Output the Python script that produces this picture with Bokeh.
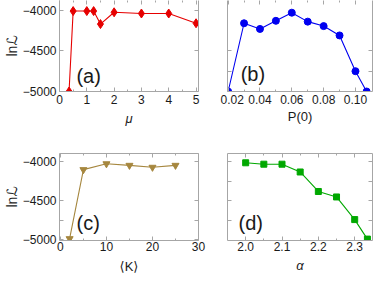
from bokeh.plotting import figure
from bokeh.layouts import gridplot
from bokeh.models import LinearAxis, FixedTicker, Range1d, Label, CustomLabelingPolicy
from bokeh.embed import file_html
from bokeh.resources import INLINE

# ---------------- data ----------------
mu = [0.35, 0.5, 1.0, 1.25, 1.5, 2, 3, 4, 5]
lnL_mu = [-5000, -4010, -4010, -4010, -4170, -4025, -4040, -4040, -4160]

p0 = [0.02, 0.03, 0.04, 0.05, 0.06, 0.07, 0.08, 0.09, 0.10, 0.107]
lnL_p0 = [-5000, -4160, -4230, -4130, -4030, -4140, -4195, -4310, -4750, -5000]

k_mean = [2, 5, 10, 15, 20, 25]
lnL_k = [-4985, -4100, -4025, -4045, -4070, -4045]

alpha = [2.0, 2.05, 2.1, 2.15, 2.2, 2.25, 2.3, 2.335]
lnL_alpha = [-4012, -4030, -4030, -4130, -4380, -4450, -4740, -4990]

# tick definitions
mu_ticks = [0, 1, 2, 3, 4, 5]
mu_minor = [0.5, 1.5, 2.5, 3.5, 4.5]
p0_ticks = [0.02, 0.04, 0.06, 0.08, 0.10]
p0_labels = ["0.02", "0.04", "0.06", "0.08", "0.10"]
p0_minor = [0.03, 0.05, 0.07, 0.09]
k_ticks = [0, 10, 20, 30]
k_minor = [5, 15, 25]
alpha_ticks = [2.0, 2.1, 2.2, 2.3]
alpha_labels = ["2.0", "2.1", "2.2", "2.3"]
alpha_minor = [2.05, 2.15, 2.25]
y_label_ticks = [-5000, -4500, -4000]
y_label_text = ["\u22125000", "\u22124500", "\u22124000"]

FRAME = "#a6a6a6"
TXT = "#1a1a1a"
FONT = "Liberation Sans, DejaVu Sans"


def style_axis(ax, ticks, minor, show_labels, line=True, standoff=3,
               overrides=None, minor_len=2):
    ax.ticker = FixedTicker(ticks=ticks, minor_ticks=minor)
    ax.axis_line_color = FRAME if line else None
    ax.axis_line_width = 1
    ax.major_tick_line_color = FRAME
    ax.minor_tick_line_color = FRAME
    ax.major_tick_in = 4
    ax.major_tick_out = 0
    ax.minor_tick_in = minor_len
    ax.minor_tick_out = 0
    if show_labels:
        ax.major_label_text_font = FONT
        ax.major_label_text_font_size = "12px"
        ax.major_label_text_color = TXT
        ax.major_label_standoff = standoff
        if overrides:
            ax.major_label_overrides = overrides
    else:
        # tick-only frame side: no labels drawn at all
        ax.major_label_policy = CustomLabelingPolicy(code="return []")
        ax.major_label_text_font_size = "0px"
        ax.major_label_standoff = 0


def panel(xs, ys, xr, yr, xt, xm, xlabels, yt, ym, ylab_left, width, height, mb,
          color, marker, msize, xtitle, xtitle_italic, xtitle_standoff,
          tick_standoff, top_line, letter, letter_pos):
    p = figure(width=width, height=height, x_range=Range1d(*xr), y_range=Range1d(*yr),
               output_backend="svg", toolbar_location=None,
               min_border_left=mb[0], min_border_right=mb[1],
               min_border_top=mb[2], min_border_bottom=mb[3])
    p.grid.visible = False
    p.outline_line_color = None
    p.background_fill_color = "white"
    p.border_fill_color = "white"

    xo = {t: l for t, l in zip(xt, xlabels)} if xlabels else None
    style_axis(p.xaxis[0], xt, xm, True, standoff=tick_standoff, overrides=xo)
    xa = p.xaxis[0]
    xa.axis_label = xtitle
    xa.axis_label_text_font = FONT
    xa.axis_label_text_font_size = "13px"
    xa.axis_label_text_color = TXT
    xa.axis_label_text_font_style = "italic" if xtitle_italic else "normal"
    xa.axis_label_standoff = xtitle_standoff

    ya = p.yaxis[0]
    if ylab_left:
        yo = {t: l for t, l in zip(y_label_ticks, y_label_text)}
        style_axis(ya, yt, ym, True, standoff=3, overrides=yo, minor_len=4)
        ya.axis_label = "ln\u2112"
        ya.axis_label_text_font = FONT
        ya.axis_label_text_font_size = "14px"
        ya.axis_label_text_color = TXT
        ya.axis_label_text_font_style = "normal"
        ya.axis_label_standoff = 0
    else:
        style_axis(ya, yt, ym, False, minor_len=4)

    ra = LinearAxis()
    style_axis(ra, yt, ym, False, minor_len=4)
    p.add_layout(ra, "right")
    ta = LinearAxis()
    style_axis(ta, xt, xm, False, line=top_line)
    p.add_layout(ta, "above")

    p.line(xs, ys, line_color=color, line_width=1.1)
    p.scatter(xs, ys, marker=marker, size=msize, fill_color=color, line_color=color)

    p.add_layout(Label(x=letter_pos[0], y=letter_pos[1], text=letter,
                       text_font=FONT, text_font_size="20px", text_color=TXT,
                       text_baseline="middle", text_align="left"))
    return p


top_y = (-5000, -3880)
bot_y = (-5008, -3893)

pa = panel(mu, lnL_mu, (0, 5.09), top_y, mu_ticks, mu_minor, None,
           [-5000, -4500, -4000], [], True, 220, 140, (52, 18, 0, 49),
           "#e60000", "diamond", 9, "\u03bc", True, 4, 3, False,
           "(a)", (0.62, -4805))
pb = panel(p0, lnL_p0, (0.0196, 0.1107), top_y, p0_ticks, p0_minor, p0_labels,
           [-4750, -4500], [], False, 154, 140, (5, 2, 0, 49),
           "#0000f0", "circle", 7, "P(0)", False, 2, 3, False,
           "(b)", (0.0279, -4785))
pc = panel(k_mean, lnL_k, (-0.2, 30), bot_y, k_ticks, k_minor, None,
           [-5000, -4500, -4000], [-4750], True, 220, 136, (53, 22, 13, 32),
           "#a6873f", "inverted_triangle", 7, "\u27e8K\u27e9", False, 5, 1, True,
           "(c)", (3.5, -4785))
pd = panel(alpha, lnL_alpha, (1.95, 2.349), bot_y, alpha_ticks, alpha_minor, alpha_labels,
           [-4750, -4500, -4250, -4000], [], False, 154, 136, (7, 1, 13, 32),
           "#00a800", "square", 6, "\u03b1", True, 4, 1, True,
           "(d)", (1.9805, -4785))

grid = gridplot([[pa, pb], [pc, pd]], toolbar_location=None)
open("out.html", "w").write(file_html(grid, INLINE))
